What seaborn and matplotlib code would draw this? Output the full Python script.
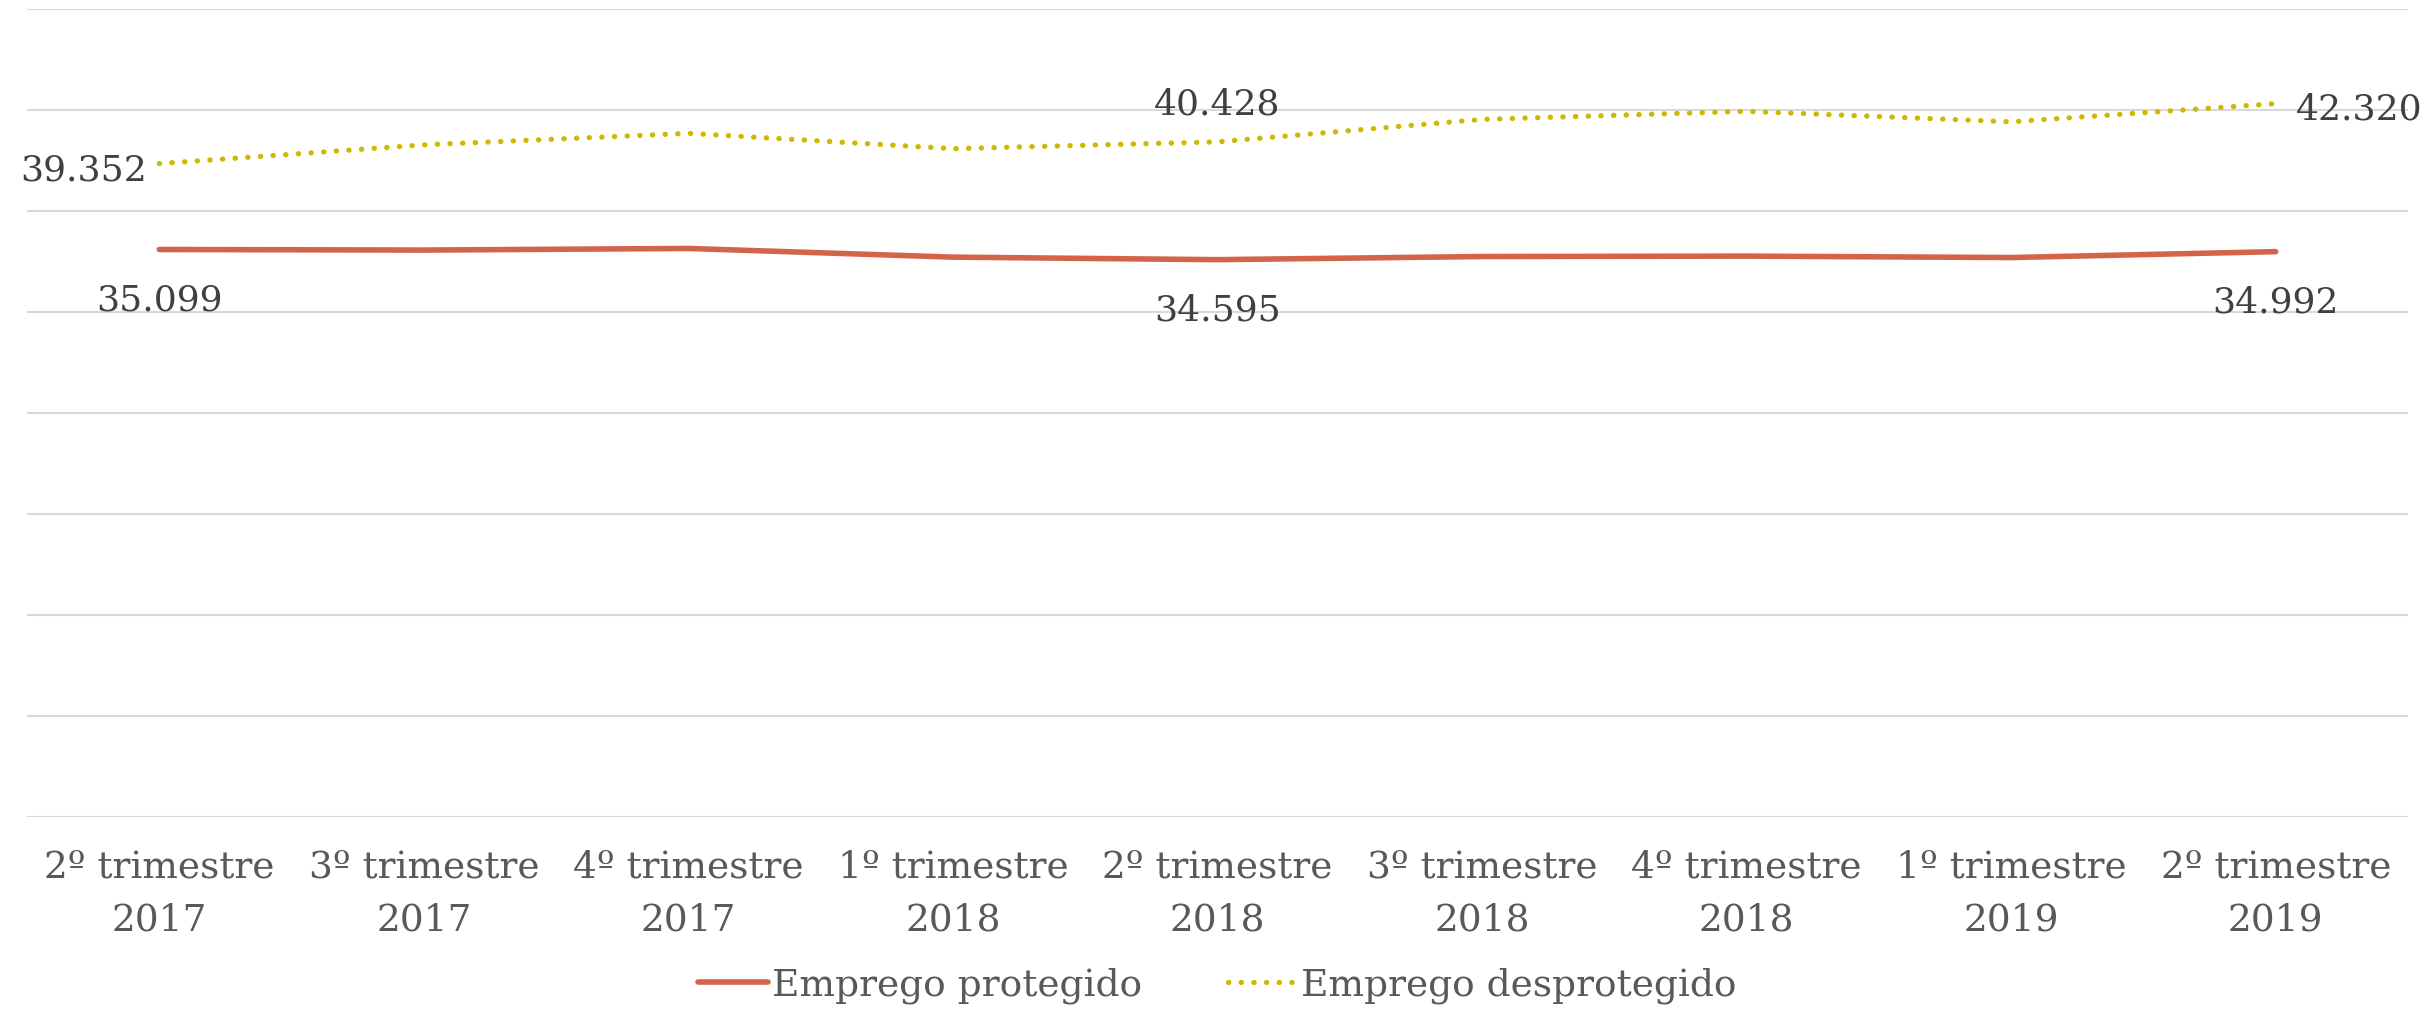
import numpy as np
import pandas as pd
import matplotlib
matplotlib.use("Agg")
import matplotlib.pyplot as plt
import seaborn as sns

# dados (trimestres)
trimestres = ["2º trimestre\n2017", "3º trimestre\n2017", "4º trimestre\n2017",
              "1º trimestre\n2018", "2º trimestre\n2018", "3º trimestre\n2018",
              "4º trimestre\n2018", "1º trimestre\n2019", "2º trimestre\n2019"]
protegido = [35099, 35070, 35150, 34720, 34595, 34750, 34770, 34700, 34992]
desprotegido = [39352, 40280, 40850, 40090, 40428, 41540, 41940, 41420, 42320]

# quais pontos levam rotulo: (indice, posicao)
rotulos_prot = {0: "below", 4: "below", 8: "below"}
rotulos_desp = {0: "left", 4: "above", 8: "right"}

COR_PROT = "#D2644A"
COR_DESP = "#D1B800"

sns.set_theme(style="white")
plt.rcParams["font.family"] = ["DejaVu Serif", "DejaVu Sans"]

df = pd.DataFrame({"x": np.arange(len(trimestres)),
                   "prot": protegido, "desp": desprotegido})

fig = plt.figure(figsize=(24.35, 10.12), dpi=100)
ax = fig.add_axes([0.0111, 0.1917, 0.9778, 0.7983])

sns.lineplot(data=df, x="x", y="prot", ax=ax, color=COR_PROT, linewidth=4,
             solid_capstyle="round", label="Emprego protegido")
sns.lineplot(data=df, x="x", y="desp", ax=ax, color=COR_DESP, linewidth=3.8,
             linestyle=(0, (0.05, 2.35)), dash_capstyle="round",
             label="Emprego desprotegido")

ax.set_xlim(-0.5, len(trimestres) - 0.5)
ax.set_ylim(7000, 47000)
ax.set_yticks(np.arange(7000, 47001, 5000))
ax.set_yticklabels([])
ax.tick_params(axis="y", length=0)
ax.grid(axis="y", color="#D9D9D9", linewidth=1.5)
ax.set_axisbelow(True)
for s in ax.spines.values():
    s.set_visible(False)

ax.set_xticks(df["x"])
ax.set_xticklabels(trimestres, fontsize=27, color="#595959", linespacing=1.6)
ax.tick_params(axis="x", length=0, pad=23)
ax.set_xlabel("")
ax.set_ylabel("")


def fmt(v):
    return f"{v:,}".replace(",", ".")


offsets = {"below": (0, -50, "center"), "above": (0, 38, "center"),
           "left": (-12, -6, "right"), "right": (20, -5, "left")}

for serie, rot in [(protegido, rotulos_prot), (desprotegido, rotulos_desp)]:
    for i, pos in rot.items():
        dx, dy, ha = offsets[pos]
        ax.annotate(fmt(serie[i]), (i, serie[i]), xytext=(dx, dy),
                    textcoords="offset pixels", ha=ha, va="center",
                    fontsize=26, color="#404040")

leg = ax.legend(loc="center", bbox_to_anchor=(0.5, -0.208), ncol=2,
                frameon=False, fontsize=27, handlelength=1.85,
                handletextpad=0.1, columnspacing=2.3, borderpad=0)
for t in leg.get_texts():
    t.set_color("#595959")

fig.savefig("out.png", dpi=100)
